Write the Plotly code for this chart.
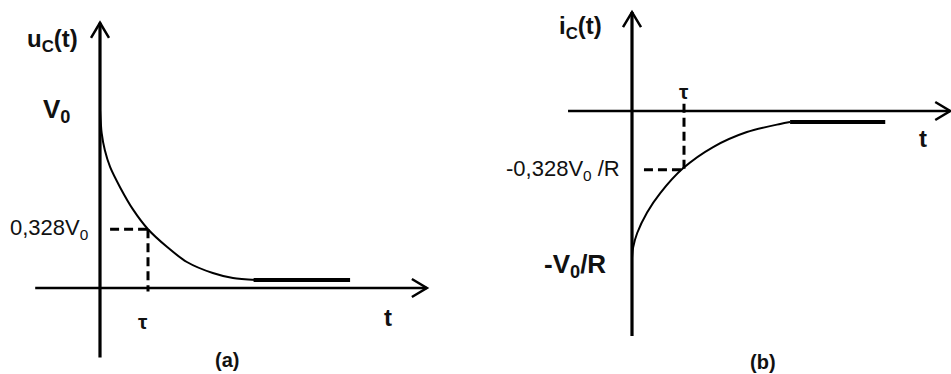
import plotly.graph_objects as go

# ---------------- data ----------------
# panel (a): capacitor voltage u_C(t), in units of V0, time in units of tau
t_a = [0.0, 0.035, 0.10, 0.21, 0.42, 0.69, 1.0, 1.40, 1.81, 2.35, 2.77, 3.29]
u_a = [1.0, 0.87, 0.775, 0.68, 0.565, 0.44, 0.33, 0.23, 0.146, 0.084, 0.056, 0.045]
flat_t_a = [3.20, 5.21]
flat_u_a = [0.045, 0.045]
tau_a = 1.0
level_a = 0.33

# panel (b): capacitor current i_C(t), in units of V0/R
t_b = [0.0, 0.02, 0.10, 0.29, 0.54, 0.98, 1.56, 2.21, 2.85, 3.04]
i_b = [-1.0, -0.93, -0.83, -0.69, -0.56, -0.39, -0.245, -0.143, -0.088, -0.075]
flat_t_b = [3.04, 4.87]
flat_i_b = [-0.075, -0.075]
tau_b = 1.0
level_b = -0.40

# axis extents (data units)
xa_ext = [-1.35, 6.81]
ya_ext = [-0.39, 1.49]
xb_ext = [-1.23, 6.12]
yb_ext = [-1.53, 0.673]

# ---------------- pixel mapping ----------------
W, H = 951, 374
SPLIT = 480
# panel a: px = 100 + 48*x ; py = 288 - 178*y
AX0, AXS, AY0, AYS = 100, 48.0, 288, 178.0
# panel b: px = 632 + 52*x ; py = 111 - 147*y
BX0, BXS, BY0, BYS = 632, 52.0, 111, 147.0

FONT = "Liberation Sans, Arial, sans-serif"
INK = "#111111"

fig = go.Figure()


def line(xs, ys, xr, yr, width, dash="solid", color="black", shape="linear"):
    ln = dict(color=color, width=width, dash=dash, shape=shape)
    if shape == "spline":
        ln["smoothing"] = 0.8
    fig.add_trace(go.Scatter(x=xs, y=ys, xaxis=xr, yaxis=yr, mode="lines",
                             line=ln, hoverinfo="skip", showlegend=False))


def arrows(ext_x, ext_y, sx, sy, xr, yr):
    back, side = 15, 9
    # x-axis arrow (pointing right) at y=0
    ax = ext_x[1]
    line([ax - back / sx, ax, ax - back / sx], [side / sy, 0, -side / sy], xr, yr, 2.5)
    # y-axis arrow (pointing up) at x=0
    ay = ext_y[1]
    line([-side / sx, 0, side / sx], [ay - back / sy, ay, ay - back / sy], xr, yr, 2.5)


# ---- panel (a) ----
line(xa_ext, [0, 0], "x", "y", 2.5)
line([0, 0], ya_ext, "x", "y", 3.2)
arrows(xa_ext, ya_ext, AXS, AYS, "x", "y")
line([0.21, tau_a], [level_a, level_a], "x", "y", 3, dash="9px,5px")
line([tau_a, tau_a], [level_a, -0.02], "x", "y", 3, dash="9px,5px")
line(t_a, u_a, "x", "y", 2, shape="spline")
line(flat_t_a, flat_u_a, "x", "y", 4)

# ---- panel (b) ----
line(xb_ext, [0, 0], "x2", "y2", 2.5)
line([0, 0], yb_ext, "x2", "y2", 3.2)
arrows(xb_ext, yb_ext, BXS, BYS, "x2", "y2")
line([0.23, tau_b], [level_b, level_b], "x2", "y2", 3, dash="9px,5px")
line([tau_b, tau_b], [0.05, level_b], "x2", "y2", 3, dash="9px,5px")
line(t_b, i_b, "x2", "y2", 2, shape="spline")
line(flat_t_b, flat_i_b, "x2", "y2", 4)


def label(text, x, y, xr, yr, size, xanchor="center"):
    fig.add_annotation(text=text, x=x, y=y, xref=xr, yref=yr, showarrow=False,
                       xanchor=xanchor, yanchor="middle",
                       font=dict(family=FONT, size=size, color=INK))


# panel (a) labels
label("<b>u<sub>C</sub>(t)</b>", -1.0, 1.393, "x", "y", 24)
label("<b>V<sub>0</sub></b>", -0.583, 1.0, "x", "y", 26, xanchor="right")
label("0,328V<sub>0</sub>", -0.21, level_a, "x", "y", 22, xanchor="right")
label("<b>τ</b>", 0.9, -0.19, "x", "y", 21)
label("<b>t</b>", 6.0, -0.165, "x", "y", 24)
label("<b>(a)</b>", 2.65, -0.404, "x", "y", 20)

# panel (b) labels
label("<b>i<sub>C</sub>(t)</b>", -1.0, 0.571, "x2", "y2", 24)
label("<b>τ</b>", tau_b, 0.136, "x2", "y2", 21)
label("<b>t</b>", 5.6, -0.19, "x2", "y2", 24)
label("-0,328V<sub>0</sub> /R", -0.19, level_b, "x2", "y2", 22, xanchor="right")
label("<b>-V<sub>0</sub>/R</b>", -0.46, -1.054, "x2", "y2", 26, xanchor="right")
label("<b>(b)</b>", 2.52, -1.707, "x2", "y2", 20)

hidden = dict(visible=False, fixedrange=True, showgrid=False, zeroline=False)
fig.update_layout(
    width=W, height=H, margin=dict(l=0, r=0, t=0, b=0, pad=0),
    paper_bgcolor="white", plot_bgcolor="white", showlegend=False,
    xaxis=dict(domain=[0, SPLIT / W], range=[-AX0 / AXS, (SPLIT - AX0) / AXS], anchor="y", **hidden),
    yaxis=dict(domain=[0, 1], range=[(AY0 - H) / AYS, AY0 / AYS], anchor="x", **hidden),
    xaxis2=dict(domain=[SPLIT / W, 1], range=[(SPLIT - BX0) / BXS, (W - BX0) / BXS], anchor="y2", **hidden),
    yaxis2=dict(domain=[0, 1], range=[(BY0 - H) / BYS, BY0 / BYS], anchor="x2", **hidden),
)

fig.write_html("out.html")
